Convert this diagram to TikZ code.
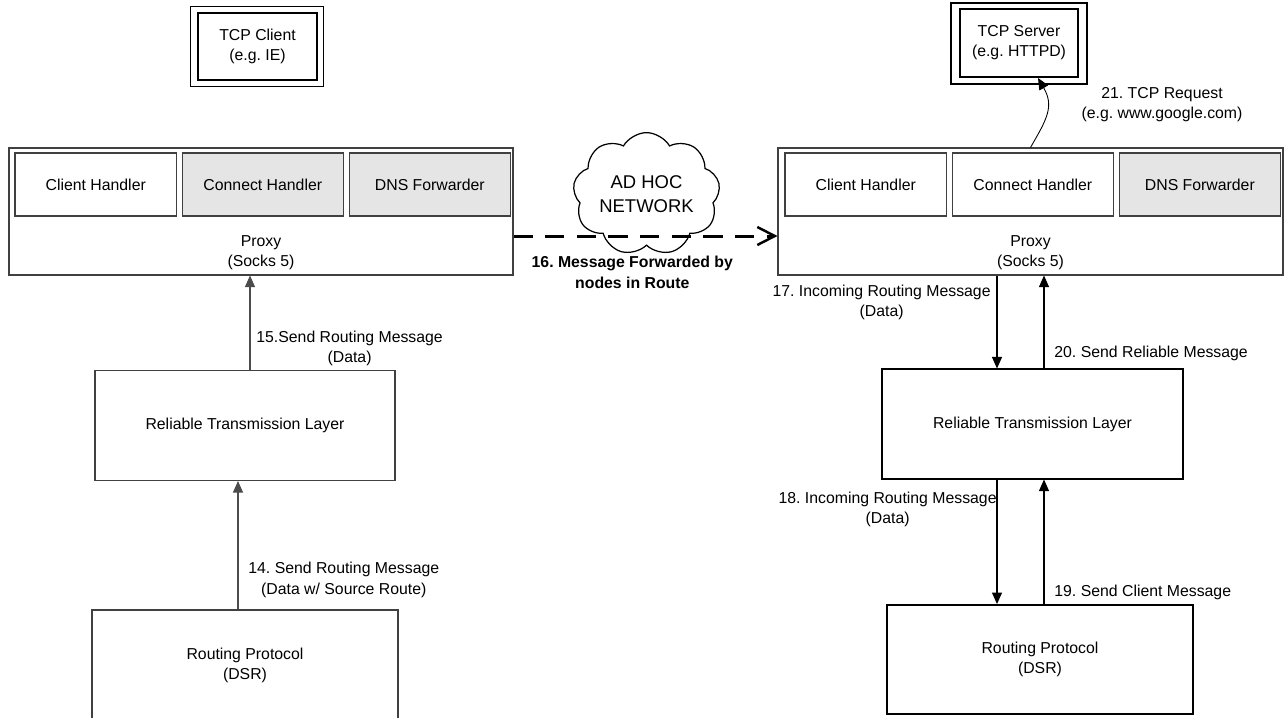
\documentclass[tikz,border=0pt]{standalone}
\usepackage{fontspec}
\setmainfont{Liberation Sans}
\usetikzlibrary{arrows.meta, positioning, calc, shapes.symbols}
\frenchspacing

\begin{document}
\begin{tikzpicture}[
  font=\fontsize{9}{11.5}\selectfont,
  box/.style = {draw=black!75, line width=0.6pt, align=center, inner sep=0pt},
  handler/.style = {box, minimum width=3.23cm, minimum height=1.26cm},
  shaded/.style = {fill=black!10},
  proxybox/.style = {box, minimum width=10.08cm, minimum height=2.54cm},
  layer/.style = {box, minimum width=6cm, minimum height=2.2cm},
  app/.style = {draw, line width=1.1pt, align=center, minimum width=2.36cm, minimum height=1.36cm},
  arrow/.style = {line width=0.6pt, -{Triangle[length=2.3mm, width=2mm]}},
  lbl/.style = {align=center},
  node distance=0.09cm
]
\useasboundingbox (0,0) rectangle (25.72,-14.34);

% TCP Client
\node[app, line width=0.9pt, minimum width=2.38cm, minimum height=1.34cm] (tcpclient) at (5.15,-0.93) {TCP Client\\(e.g. IE)};
\draw[line width=0.5pt] ($(tcpclient.north west)+(-0.14,0.12)$) rectangle ($(tcpclient.south east)+(0.12,-0.12)$);

% TCP Server
\node[app] (tcpserver) at (20.38,-0.86) {TCP Server\\(e.g. HTTPD)};
\draw[line width=1.1pt] ($(tcpserver.north west)+(-0.16,0.1)$) rectangle ($(tcpserver.south east)+(0.16,-0.12)$);

% Left proxy with its handlers
\node[proxybox] (lproxy) at (5.22,-4.23) {};
\node[lbl] (lproxytxt) at ([yshift=0.45cm]lproxy.south) {Proxy\\(Socks 5)};
\node[handler, anchor=north west] (lclient) at ([shift={(0.12,-0.1)}]lproxy.north west) {Client Handler};
\node[handler, shaded, right=of lclient] (lconnect) {Connect Handler};
\node[handler, shaded, right=of lconnect] (ldns) {DNS Forwarder};

% Right proxy with its handlers
\node[proxybox, minimum width=10.1cm] (rproxy) at (20.61,-4.23) {};
\node[lbl] (rproxytxt) at ([yshift=0.45cm]rproxy.south) {Proxy\\(Socks 5)};
\node[handler, anchor=north west] (rclient) at ([shift={(0.14,-0.1)}]rproxy.north west) {Client Handler};
\node[handler, right=of rclient] (rconnect) {Connect Handler};
\node[handler, shaded, right=of rconnect] (rdns) {DNS Forwarder};

% Reliable transmission layers
\node[layer] (lrtl) at (4.9,-8.51) {Reliable Transmission Layer};
\node[layer, draw=black, minimum width=6.02cm] (rrtl) at (20.65,-8.48) {Reliable Transmission Layer};

% Routing protocols
\node[layer, minimum width=6.12cm] (lrp) at (4.9,-13.3) {Routing Protocol\\(DSR)};
\node[layer, draw=black, line width=1.1pt, minimum width=6.12cm, minimum height=2.18cm] (rrp) at (20.8,-13.19) {Routing Protocol\\(DSR)};

% Ad hoc network
\node[cloud, draw, line width=0.7pt, cloud puffs=9, cloud puff arc=120, aspect=1.3,
      minimum width=2.94cm, minimum height=2.2cm, inner sep=0pt,
      font=\fontsize{10.5}{14}\selectfont, align=center] (adhoc) at (12.93,-3.88) {AD HOC\\NETWORK};

% Sender side
\draw[arrow, black!70] ([xshift=-0.14cm]lrp.north) --
  node[pos=0.23, anchor=west, lbl, black, xshift=0.08cm] {14. Send Routing Message\\(Data w/ Source Route)} ([xshift=-0.14cm]lrtl.south);
\draw[arrow, black!70] ([xshift=0.1cm]lrtl.north) --
  node[pos=0.23, anchor=west, lbl, black] {15.Send Routing Message\\(Data)} ([xshift=0.1cm]lrtl.north |- lproxy.south);

% Forwarding through the network
\draw[line width=1.7pt, dash pattern=on 11pt off 7pt, -{Straight Barb[length=3.5mm, width=3.6mm, line width=1.4pt]}]
  ([yshift=-0.49cm]lproxy.east) --
  node[pos=0.45, anchor=north, yshift=-0.26cm, lbl, font=\fontsize{9}{11.5}\selectfont\bfseries] {16. Message Forwarded by\\nodes in Route} ([yshift=-0.49cm]rproxy.west);

% Receiver side
\draw[arrow] ([xshift=-0.67cm]rproxy.south) --
  node[pos=0.29, anchor=east, lbl] {17. Incoming Routing Message\\(Data)} ([xshift=-0.67cm]rproxy.south |- rrtl.north);
\draw[arrow] ([xshift=-0.71cm]rrtl.south) --
  node[pos=0.24, anchor=east, lbl, xshift=0.12cm] {18. Incoming Routing Message\\(Data)} ([xshift=-0.71cm]rrtl.south |- rrp.north);
\draw[arrow] ([xshift=0.23cm]rrtl.south |- rrp.north) --
  node[pos=0.09, anchor=west, lbl, xshift=0.08cm] {19. Send Client Message} ([xshift=0.23cm]rrtl.south);
\draw[arrow] ([xshift=0.27cm]rproxy.south |- rrtl.north) --
  node[pos=0.16, anchor=west, lbl, xshift=0.08cm] {20. Send Reliable Message} ([xshift=0.27cm]rproxy.south);

% Request to the server
\draw[line width=0.5pt, -{Triangle[length=2.3mm, width=2mm]}] (rproxy.north) to[out=60, in=-60, looseness=1.2] ([xshift=0.38cm]tcpserver.south);
\node[lbl] (req) at (23.24,-2.09) {21. TCP Request\\(e.g. www.google.com)};

\end{tikzpicture}
\end{document}
